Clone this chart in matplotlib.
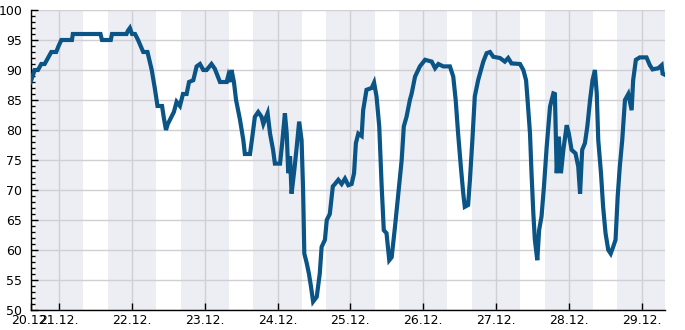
import matplotlib
matplotlib.use("Agg")
import matplotlib.pyplot as plt
from matplotlib.ticker import MultipleLocator

# time in hours since 20.12. 00:00, humidity values
hours = [14.6, 15.9, 17.0, 18.1, 19.2, 20.3, 21.4, 23.0, 23.8, 24.7, 28.2, 28.5, 37.6, 38.1,
         41.0, 41.4, 46.2, 46.6, 47.3, 48.0, 49.0, 50.0, 51.7, 53.1, 54.5, 55.5, 56.4, 57.9,
         58.5, 59.2, 59.8, 60.8, 61.8, 62.7, 63.8, 64.8, 66.0, 66.8, 68.2, 69.3, 70.4, 71.5,
         72.6, 74.2, 75.3, 77.0, 79.2, 79.7, 80.3, 80.8, 81.6, 82.3, 83.6, 84.7, 85.2, 86.9,
         87.8, 88.5, 89.6, 90.7, 91.3, 92.7, 93.5, 94.5, 95.1, 96.8, 97.5, 98.4, 99.0, 99.5,
         100.1, 100.6, 101.5, 102.3, 103.1, 103.9, 104.4, 104.8, 105.6, 106.3, 107.0, 107.7,
         108.9, 109.9, 110.5, 111.6, 112.2, 113.2, 114.2, 114.9, 116.0, 117.1, 118.2, 119.3,
         120.4, 121.2, 121.8, 122.6, 123.7, 124.2, 125.3, 127.0, 127.8, 128.6, 129.5, 130.3,
         131.0, 131.9, 132.8, 133.6, 134.7, 135.8, 136.9, 137.6, 138.5, 139.6, 140.2, 141.3,
         142.9, 144.6, 146.8, 147.9, 149.0, 150.6, 152.8, 153.9, 154.7, 155.5, 156.4, 157.2,
         157.7, 158.8, 159.4, 160.2, 161.0, 162.1, 163.8, 164.9, 166.0, 167.1, 169.3, 170.9,
         172.0, 173.1, 175.9, 177.0, 177.9, 178.4, 179.2, 179.7, 180.3, 180.8, 181.6, 182.2,
         183.0, 183.8, 184.7, 185.8, 186.9, 187.4, 188.0, 188.7, 189.4, 190.2, 191.3, 192.0,
         192.9, 194.2, 195.1, 195.7, 196.4, 197.3, 198.1, 199.0, 199.8, 200.6, 201.2, 201.7,
         202.6, 203.3, 204.1, 205.0, 205.8, 206.6, 207.4, 208.1, 208.8, 209.6, 210.5, 211.6,
         212.7, 213.2, 214.1, 215.4, 217.6, 218.7, 219.6, 221.5, 222.6, 222.9, 223.7]
values = [88, 90, 90, 91, 91, 92, 93, 93, 94, 95, 95, 96, 96, 95,
          95, 96, 96, 96.5, 97, 96, 96, 95, 93, 93, 90, 87, 84, 84,
          82, 80, 81, 82, 83, 84.7, 84, 86, 86, 88, 88.3, 90.6, 91, 90,
          90, 91, 90.2, 88, 88, 89, 88, 90, 88, 85, 81.7, 78.3, 76, 76,
          79.4, 82.2, 83, 82.2, 81, 82.8, 79.4, 76.7, 74.4, 74.4, 77.8, 82.8, 79.4, 72.8,
          75.6, 69.4, 73.3, 77.2, 81.4, 78.3, 70, 59.4, 57.8, 56.1, 53.9, 51.4,
          52.2, 56.1, 60.5, 61.7, 65, 66, 70.6, 71, 71.7, 71, 71.9, 70.8,
          71, 72.8, 77.8, 79.4, 79, 83.3, 86.7, 87, 87.9, 85.6, 80.6, 70.6,
          63.3, 62.8, 58.3, 58.8, 63.9, 69.4, 75, 80.6, 82.2, 85, 86.1, 88.9,
          90.6, 91.7, 91.4, 90.3, 91, 90.6, 90.6, 88.9, 85, 79.4, 73.9, 69.4,
          67.2, 67.5, 71.7, 78.3, 85.6, 88.3, 91.4, 92.8, 93, 92.2, 92, 91.4,
          92, 91.1, 91, 90, 88.3, 85, 79.4, 72.8, 66.1, 61.7, 58.3, 63.3,
          65.6, 70.6, 77.2, 83.9, 86.1, 86, 72.8, 78.9, 72.8, 76.7, 80.8, 79.4,
          76.7, 76.1, 73.9, 69.4, 76.7, 77.8, 80.6, 85, 88.3, 90, 86.1, 78.3,
          72.8, 67.2, 62.8, 60, 59.4, 60.5, 61.7, 68.9, 73.9, 78.3, 85, 86,
          83.3, 88.3, 91.7, 92.1, 92.1, 90.8, 90.1, 90.3, 90.8, 89.4, 89.2]

tick_hours = [14.6, 24, 48, 72, 96, 120, 144, 168, 192, 216]
tick_labels = ["20.12.", "21.12.", "22.12.", "23.12.", "24.12.", "25.12.",
               "26.12.", "27.12.", "28.12.", "29.12."]
band_starts = [16, 40, 64, 88, 112, 136, 160, 184, 208]
band_len = 16

fig = plt.figure(figsize=(6.85, 3.3), dpi=100)
ax = fig.add_axes([0.0448, 0.0606, 0.9260, 0.9091])

for s in band_starts:
    ax.axvspan(s, s + band_len, color="#eceef3", lw=0, zorder=0)

ax.plot(hours, values, color="#0a5486", lw=3.0, solid_joinstyle="miter", zorder=3)

ax.set_xlim(hours[0], hours[-1])
ax.set_ylim(50, 100)
ax.yaxis.set_major_locator(MultipleLocator(5))
ax.yaxis.set_minor_locator(MultipleLocator(1))
ax.set_xticks(tick_hours)
ax.set_xticklabels(tick_labels)

ax.grid(True, which="major", color="#cfcfd4", lw=1.0, zorder=1)
ax.set_axisbelow(True)

for side in ["top", "right"]:
    ax.spines[side].set_visible(False)
for side in ["left", "bottom"]:
    ax.spines[side].set_color("black")
    ax.spines[side].set_linewidth(1.0)

ax.tick_params(axis="y", which="major", direction="in", length=5, width=1,
               labelsize=9, pad=6, colors="black")
ax.tick_params(axis="y", which="minor", direction="in", length=2.7, width=1)
ax.tick_params(axis="x", which="major", direction="in", length=5, width=1,
               labelsize=9, pad=3)

fig.savefig("out.png", dpi=100)
